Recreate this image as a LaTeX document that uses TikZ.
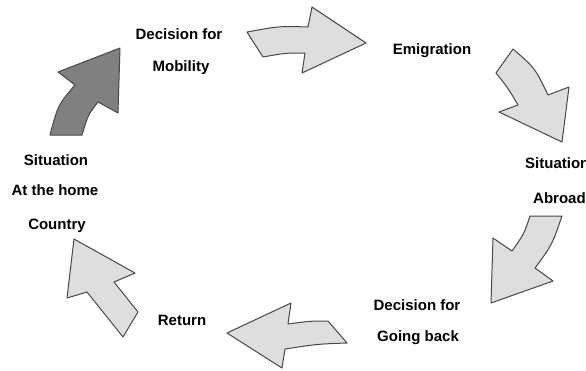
\documentclass[tikz,border=0pt]{standalone}
\usepackage{fontspec}
\setmainfont{Liberation Sans}
\usepackage{xcolor}
\usepackage{tikz}
\definecolor{arrowlight}{RGB}{222,222,222}
\definecolor{arrowdark}{RGB}{128,128,128}
\definecolor{arrowline}{RGB}{72,72,72}
\tikzstyle{cyclearrow} = [draw=arrowline, fill=arrowlight, line width=1pt, line join=round]
\tikzstyle{darkarrow} = [cyclearrow, fill=arrowdark]
\tikzstyle{lbl} = [font=\fontsize{15}{17}\selectfont\bfseries, inner sep=0pt, anchor=base]

\begin{document}
\begin{tikzpicture}[x=1pt, y=-1pt]
    \useasboundingbox[fill=white] (0,0) rectangle (586,370);
    % the six arrows of the cycle
    \draw[darkarrow]  (50,135) .. controls (58,105) .. (75,85) -- (58,72) -- (120,48) -- (118,113)
        -- (98,102) .. controls (88,115) .. (82,135) -- cycle;
    \draw[cyclearrow] (247,32) .. controls (280,26) .. (308,27) -- (312,7) -- (366,43) -- (302,73)
        -- (305,53) .. controls (285,53) .. (263,57) -- cycle;
    \draw[cyclearrow] (513,49) .. controls (535,68) .. (548,95) -- (569,87) -- (562,142) -- (499,112)
        -- (518,105) .. controls (508,88) .. (496,73) -- cycle;
    \draw[cyclearrow] (562,216) .. controls (552,245) .. (535,268) -- (553,281) -- (491,303) -- (493,238)
        -- (512,251) .. controls (524,234) .. (530,216) -- cycle;
    \draw[cyclearrow] (347,343) .. controls (318,344) .. (285,349) -- (282,368) -- (227,333) -- (291,303)
        -- (288,324) .. controls (310,321) .. (328,321) -- cycle;
    \draw[cyclearrow] (74,239) -- (135,273) -- (114,282) -- (138,312) -- (123,337) -- (87,292)
        -- (67,298) -- cycle;
    % labels
    \node[lbl] (decmob1) at (179,39)  {Decision for};
    \node[lbl] (decmob2) at (181,71)  {Mobility};
    \node[lbl] (emig)    at (432,54)  {Emigration};
    \node[lbl, anchor=base west] (abroad1) at (525,168) {Situation};
    \node[lbl, anchor=base west] (abroad2) at (533,203) {Abroad};
    \node[lbl] (decback1) at (417,310) {Decision for};
    \node[lbl] (decback2) at (418,341) {Going back};
    \node[lbl] (ret)      at (182,325) {Return};
    \node[lbl] (home1)    at (56,165)  {Situation};
    \node[lbl] (home2)    at (55,195)  {At the home};
    \node[lbl] (home3)    at (57,229)  {Country};
\end{tikzpicture}
\end{document}
